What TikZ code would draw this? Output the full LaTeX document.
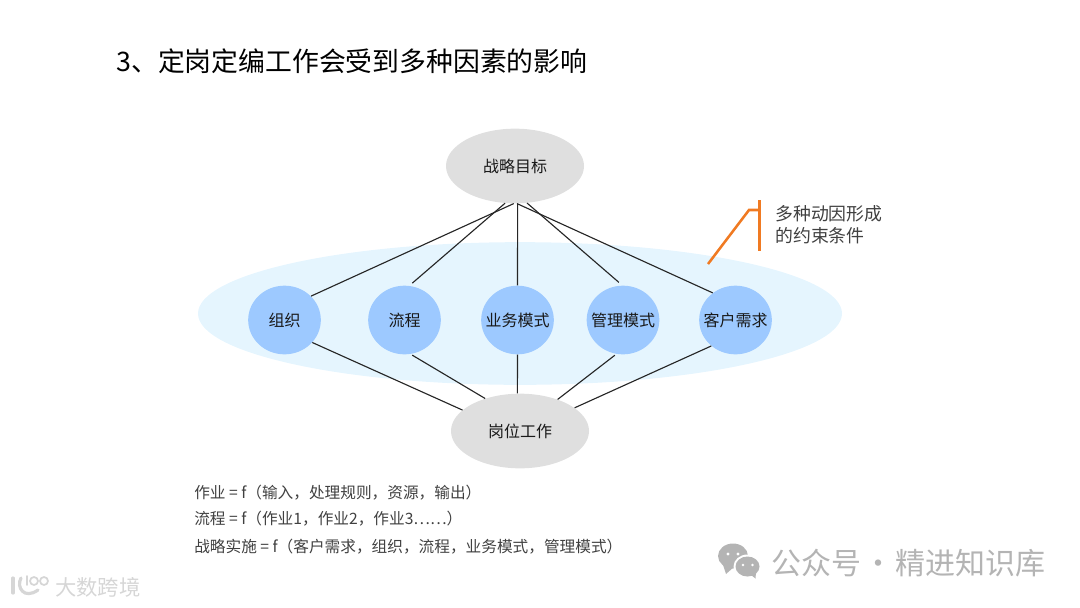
\documentclass[tikz,border=0pt]{standalone}
\usepackage{fontspec}
\setmainfont{Noto Sans CJK SC}
\usetikzlibrary{shapes.geometric}
\definecolor{grayfill}{HTML}{DFDFDF}
\definecolor{paleblue}{HTML}{E5F5FE}
\definecolor{midblue}{HTML}{9DC9FF}
\definecolor{calloutc}{HTML}{F07A22}
\definecolor{wmgray}{HTML}{B4B4B4}
\tikzset{
  grayell/.style={ellipse,fill=grayfill,minimum width=103.5pt,minimum height=56pt,inner sep=0pt,font=\fontsize{12}{14}\selectfont,text=black!90},
  factor/.style={ellipse,fill=midblue,minimum width=54.5pt,minimum height=51.5pt,inner xsep=-8pt,inner ysep=0pt,font=\fontsize{12}{14}\selectfont,text=black!90},
  link/.style={draw=black!85,line width=0.85pt},
  calloutline/.style={draw=calloutc,line width=1.9pt},
  formula/.style={anchor=west,inner sep=0pt,font=\fontsize{11.75}{14}\selectfont,text=black!75},
}
\begin{document}
\begin{tikzpicture}[x=0.75pt,y=-0.75pt]
\useasboundingbox (0,0) rectangle (1080,607);
\node[ellipse,fill=paleblue,minimum width=483pt,minimum height=107pt,inner sep=0pt] (band) at (520,313.5) {};
\node[anchor=west,inner sep=0pt,font=\fontsize{20.13}{24}\selectfont,text=black] (title) at (116,61) {3、定岗定编工作会受到多种因素的影响};
\node[grayell] (goal) at (515,166) {战略目标};
\node[grayell] (job) at (520,431) {岗位工作};
\node[factor] (f1) at (284.5,320) {组织};
\node[factor] (f2) at (404.5,320) {流程};
\node[factor] (f3) at (517.5,320) {业务模式};
\node[factor] (f4) at (623,320) {管理模式};
\node[factor] (f5) at (735.5,320) {客户需求};
\draw[link] (goal.-92) -- (f1.42);
\draw[link,shorten >=3pt] (goal.-105) -- (f2.82);
\draw[link] (goal.-86.4) -- (f3.90);
\draw[link,shorten >=3.5pt] (goal.-72) -- (f4.91);
\draw[link] (goal.-87) -- (f5.130);
\draw[link] (f1.-39) -- (job.160);
\draw[link,shorten <=1.5pt] (f2.-80) -- (job.137);
\draw[link] (f3.-90) -- (job.94);
\draw[link,shorten <=1.5pt] (f4.-101) -- (job.40);
\draw[link] (f5.-133) -- (job.23);
\coordinate (c1) at (708,264);
\coordinate (c2) at (749,210);
\coordinate (c3) at (759.5,210);
\coordinate (c4) at (759.5,200);
\coordinate (c5) at (759.5,251);
\draw[calloutline] (c1) -- (c2) -- (c3);
\draw[calloutline] (c4) -- (c5);
\node[anchor=west,inner sep=0pt,font=\fontsize{13.4}{16.5}\selectfont,text=black!75,align=left] (note) at (775,225) {多种动因形成\\的约束条件};
\node[formula] (l1) at (194,493) {作业 = f（输入，处理规则，资源，输出）};
\node[formula] (l2) at (194,519) {流程 = f（作业1，作业2，作业3……）};
\node[formula] (l3) at (194,547) {战略实施 = f（客户需求，组织，流程，业务模式，管理模式）};
\node[anchor=west,inner sep=0pt,font=\fontsize{22.5}{24}\selectfont,text=wmgray] (wm) at (771,563) {公众号\hspace{1.75pt}·\hspace{1.75pt}精进知识库};
\fill[wmgray] (733,556) ellipse (15 and 12.5);
\fill[wmgray] (723,565) -- (726,574) -- (734,567) -- cycle;
\fill[white] (747.5,566.5) ellipse (14 and 12);
\fill[wmgray] (747.5,566.5) ellipse (12 and 10);
\fill[wmgray] (751,575) -- (755.5,578.5) -- (756,572) -- cycle;
\fill[white] (728,554) circle (1.7) (738,554) circle (1.7) (743,565) circle (1.4) (752.5,565) circle (1.4);
\node[anchor=west,inner sep=0pt,font=\fontsize{16}{18}\selectfont,text=black!16] (wm2) at (55,587) {大数跨境};
\draw[black!16,line width=2.4pt,line cap=round] (13,578) -- (13,593);
\draw[black!16,line width=2.4pt,line cap=round] (21,578) .. controls (16,587) and (24,600) .. (38,590);
\draw[black!16,line width=1.3pt,line cap=round] (27,576) -- (27,585);
\draw[black!16,line width=1.3pt] (34,581) circle (4) (44,581) circle (4);
\end{tikzpicture}
\end{document}
